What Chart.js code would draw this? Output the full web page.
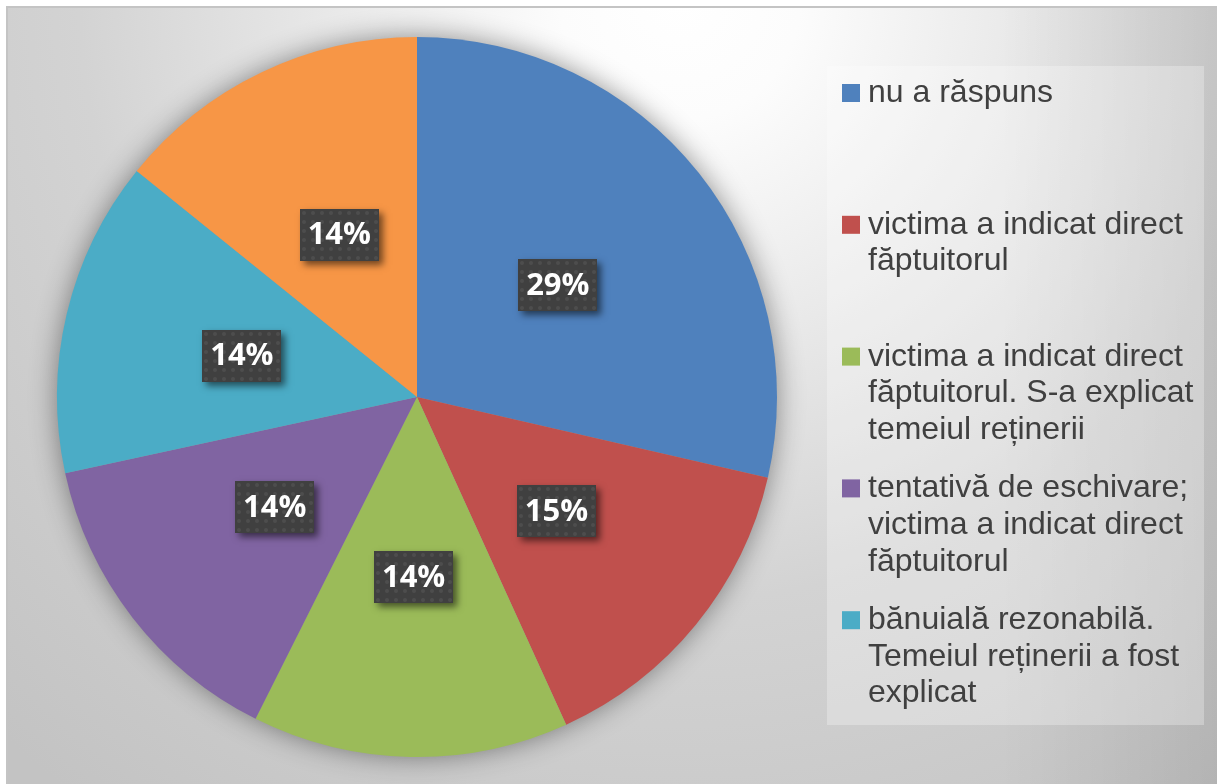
<!DOCTYPE html>
<html><head><meta charset="utf-8">
<script src="https://cdn.jsdelivr.net/npm/chart.js@4.4.0/dist/chart.umd.min.js"></script>
<style>html,body{margin:0;padding:0;background:#fff;overflow:hidden}canvas{display:block}</style>
</head><body>
<canvas id="c" width="1217" height="784"></canvas>
<script>
// ---- data ----
const categories = [
  ["nu a răspuns"],
  ["victima a indicat direct", "făptuitorul"],
  ["victima a indicat direct", "făptuitorul. S-a explicat", "temeiul reținerii"],
  ["tentativă de eschivare;", "victima a indicat direct", "făptuitorul"],
  ["bănuială rezonabilă.", "Temeiul reținerii a fost", "explicat"],
  ["altele"]
];
const values = [28.6, 14.6, 14.2, 14.2, 14.2, 14.2];
const colors = ["#4F81BD", "#C0504D", "#9BBB59", "#8064A2", "#4BACC6", "#F79646"];

// ---- plugins ----
const bgPlugin = {
  id: 'bg',
  beforeDraw(chart) {
    const ctx = chart.ctx, W = chart.width, H = chart.height;
    ctx.save();
    ctx.fillStyle = '#ffffff';
    ctx.fillRect(0, 0, W, H);
    const g = ctx.createRadialGradient(680, 0, 0, 680, 0, 1000);
    g.addColorStop(0, '#ffffff');
    g.addColorStop(0.12, '#fcfcfc');
    g.addColorStop(0.6, '#d3d3d3');
    g.addColorStop(1, '#c3c3c3');
    ctx.fillStyle = g;
    ctx.fillRect(7, 7, W - 7, H - 7);
    const r = ctx.createLinearGradient(1000, 0, W, 0);
    r.addColorStop(0, 'rgba(0,0,0,0)');
    r.addColorStop(1, 'rgba(0,0,0,0.09)');
    ctx.fillStyle = r;
    ctx.fillRect(1000, 7, W - 1000, H - 7);
    ctx.strokeStyle = '#c4c4c4';
    ctx.lineWidth = 2;
    ctx.beginPath();
    ctx.moveTo(7, H); ctx.lineTo(7, 7); ctx.lineTo(W, 7);
    ctx.stroke();
    ctx.restore();
  }
};

const shadowPlugin = {
  id: 'pieShadow',
  beforeDatasetsDraw(chart) {
    const arc = chart.getDatasetMeta(0).data[0];
    if (!arc) return;
    const ctx = chart.ctx;
    ctx.save();
    ctx.shadowColor = 'rgba(0,0,0,0.45)';
    ctx.shadowBlur = 28;
    ctx.fillStyle = '#999';
    ctx.beginPath();
    ctx.arc(arc.x, arc.y, arc.outerRadius - 1, 0, Math.PI * 2);
    ctx.fill();
    ctx.restore();
  }
};

const labelPlugin = {
  id: 'boxLabels',
  afterDatasetsDraw(chart) {
    const ctx = chart.ctx;
    const ds = chart.data.datasets[0].data;
    const total = ds.reduce((a, b) => a + b, 0);
    chart.getDatasetMeta(0).data.forEach((el, i) => {
      const p = el.getCenterPoint();
      const bw = 79, bh = 52;
      const x0 = Math.round(p.x - bw / 2), y0 = Math.round(p.y - bh / 2);
      ctx.save();
      ctx.shadowColor = 'rgba(0,0,0,0.55)';
      ctx.shadowBlur = 7;
      ctx.shadowOffsetX = 4;
      ctx.shadowOffsetY = 4;
      ctx.fillStyle = '#404040';
      ctx.fillRect(x0, y0, bw, bh);
      ctx.restore();
      ctx.save();
      ctx.beginPath();
      ctx.rect(x0, y0, bw, bh);
      ctx.clip();
      ctx.fillStyle = 'rgba(255,255,255,0.07)';
      for (let yy = y0 + 4; yy < y0 + bh; yy += 9) {
        for (let xx = x0 + 4; xx < x0 + bw; xx += 9) {
          ctx.beginPath();
          ctx.arc(xx, yy, 2, 0, Math.PI * 2);
          ctx.fill();
        }
      }
      ctx.restore();
      ctx.save();
      ctx.fillStyle = '#ffffff';
      ctx.font = 'bold 31px "Open Sans", "Noto Sans", sans-serif';
      ctx.textAlign = 'center';
      ctx.textBaseline = 'middle';
      ctx.fillText(Math.round(ds[i] / total * 100) + '%', p.x, p.y + 1);
      ctx.restore();
    });
  }
};

const legendPlugin = {
  id: 'sideLegend',
  afterDraw(chart) {
    const ctx = chart.ctx;
    const box = { x: 827, y: 66, w: 377, h: 659 };
    ctx.save();
    ctx.fillStyle = 'rgba(255,255,255,0.28)';
    ctx.fillRect(box.x, box.y, box.w, box.h);
    ctx.font = '32px "Liberation Sans", Arial, sans-serif';
    ctx.textBaseline = 'alphabetic';
    const labels = chart.data.labels;
    const cols = chart.data.datasets[0].backgroundColor;
    labels.forEach((lines, i) => {
      const base = 102 + i * 131.8;
      if (base > box.y + box.h) return;
      ctx.fillStyle = cols[i];
      ctx.fillRect(842, base - 18, 18, 18);
      ctx.fillStyle = '#404040';
      lines.forEach((ln, j) => {
        ctx.fillText(ln, 868, base + j * 36.6);
      });
    });
    ctx.restore();
  }
};

new Chart(document.getElementById('c'), {
  type: 'pie',
  data: {
    labels: categories,
    datasets: [{
      data: values,
      backgroundColor: colors,
      borderWidth: 0
    }]
  },
  options: {
    responsive: false,
    animation: false,
    devicePixelRatio: 1,
    layout: { padding: { left: 57, top: 37, right: 440, bottom: 27 } },
    plugins: {
      legend: { display: false },
      tooltip: { enabled: false }
    }
  },
  plugins: [bgPlugin, shadowPlugin, labelPlugin, legendPlugin]
});
</script>
</body></html>
